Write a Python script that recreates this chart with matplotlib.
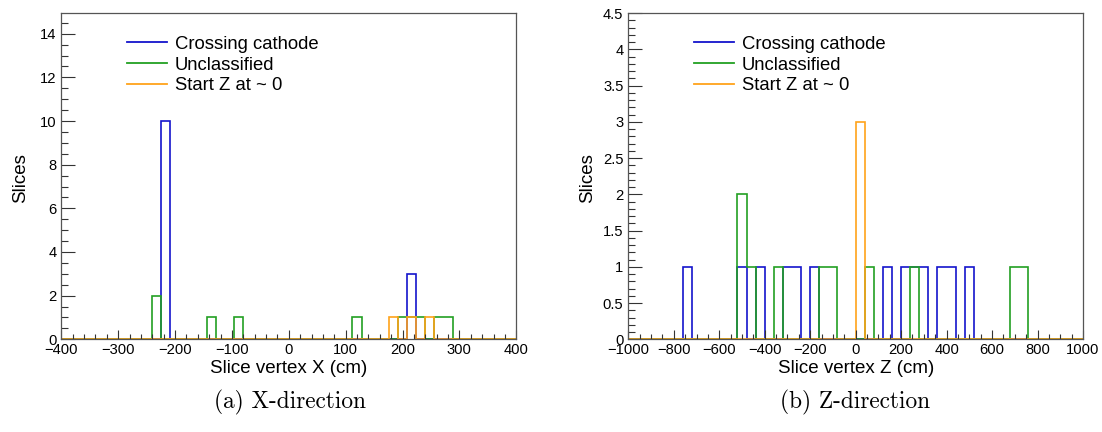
import numpy as np
import matplotlib
matplotlib.use("Agg")
import matplotlib.pyplot as plt
from matplotlib.ticker import MultipleLocator, FuncFormatter
from matplotlib.lines import Line2D

# ---------------- data ----------------
# X-direction histograms (bin centres of non-empty bins, counts)
x_bins = np.linspace(-400, 400, 51)
x_blue_pos = [-216, 216]
x_blue_cnt = [10, 3]
x_green_pos = [-232, -136, -88, 120, 200, 216, 232, 264, 280]
x_green_cnt = [2, 1, 1, 1, 1, 1, 1, 1, 1]
x_orange_pos = [184, 216, 248]
x_orange_cnt = [1, 1, 1]

# Z-direction histograms
z_bins = np.linspace(-1000, 1000, 51)
z_blue_pos = [-740, -500, -420, -300, -260, -180, 140, 220, 260, 300, 380, 420, 500]
z_blue_cnt = [1, 1, 1, 1, 1, 1, 1, 1, 1, 1, 1, 1, 1]
z_green_pos = [-500, -460, -340, -140, -100, 60, 260, 700, 740]
z_green_cnt = [2, 1, 1, 1, 1, 1, 1, 1, 1]
z_orange_pos = [20]
z_orange_cnt = [3]

labels = ["Crossing cathode", "Unclassified", "Start Z at ~ 0"]
colors = ["#1414cc", "#22a022", "#ffa31a"]
captions = ["(a) X-direction", "(b) Z-direction"]
xlabels = ["Slice vertex X (cm)", "Slice vertex Z (cm)"]

# ---------------- figure ----------------
plt.rcParams['font.family'] = ['Liberation Sans', 'DejaVu Sans']
fig = plt.figure(figsize=(11.02, 4.32), dpi=100)

W, H = 1102, 432
def axrect(x0, x1, ytop, ybot):
    return [x0 / W, 1 - ybot / H, (x1 - x0) / W, (ybot - ytop) / H]

ax1 = fig.add_axes(axrect(61.3, 516.3, 13, 339.3))
ax2 = fig.add_axes(axrect(628.3, 1083, 13, 339.3))

def fmt(v, pos):
    if abs(v - round(v)) < 1e-9:
        s = "%d" % round(v)
    else:
        s = ("%g" % v)
    return s.replace("-", "\u2212")

def draw(ax, bins, data, xlim, ylim, xmaj, xmin, ymaj, ymin, xlabel, legx, labx):
    for (pos, cnt), c, lab in zip(data, colors, labels):
        h, _ = np.histogram(pos, bins=bins, weights=cnt)
        ax.stairs(h, bins, color=c, linewidth=1.2, clip_on=False, label=lab)
    ax.set_xlim(*xlim)
    ax.set_ylim(*ylim)
    ax.xaxis.set_major_locator(MultipleLocator(xmaj))
    ax.xaxis.set_minor_locator(MultipleLocator(xmin))
    ax.yaxis.set_major_locator(MultipleLocator(ymaj))
    ax.yaxis.set_minor_locator(MultipleLocator(ymin))
    ax.xaxis.set_major_formatter(FuncFormatter(fmt))
    ax.yaxis.set_major_formatter(FuncFormatter(fmt))
    ax.tick_params(which='both', direction='in', colors='#333333', labelcolor='black',
                   labelsize=10.6, top=False, right=False, width=0.8)
    ax.tick_params(axis='x', which='major', length=6.8, pad=3)
    ax.tick_params(axis='x', which='minor', length=3.6)
    ax.tick_params(axis='y', which='major', length=10, pad=3.5)
    ax.tick_params(axis='y', which='minor', length=5.2)
    for sp in ax.spines.values():
        sp.set_color('#555555')
        sp.set_linewidth(0.9)
    ax.set_xlabel(xlabel, fontsize=13.5, va='center')
    ax.xaxis.set_label_coords(labx, -0.088)
    ax.set_ylabel("Slices", fontsize=13.5, va='center')
    ax.yaxis.set_label_coords(-0.09, 0.495)
    proxies = [Line2D([], [], color=c, linewidth=1.3) for c in colors]
    ax.legend(proxies, labels, loc='upper left', bbox_to_anchor=(legx, 0.93),
              frameon=False, fontsize=13.3, handlelength=2.15, handletextpad=0.45,
              labelspacing=0.2, borderaxespad=0, borderpad=0)

draw(ax1, x_bins,
     [(x_blue_pos, x_blue_cnt), (x_green_pos, x_green_cnt), (x_orange_pos, x_orange_cnt)],
     (-400, 400), (0, 14.95), 100, 20, 2, 0.5, xlabels[0], (127 - 61.3) / 455, 0.5)
draw(ax2, z_bins,
     [(z_blue_pos, z_blue_cnt), (z_green_pos, z_green_cnt), (z_orange_pos, z_orange_cnt)],
     (-1000, 1000), (0, 4.5), 200, 50, 0.5, 0.1, xlabels[1], (694 - 628.3) / 454.7, 0.5)

fig.text(290 / W, 1 - 402 / H, captions[0], family='cmr10', fontsize=16.8,
         ha='center', va='center')
fig.text(855 / W, 1 - 402 / H, captions[1], family='cmr10', fontsize=16.8,
         ha='center', va='center')

fig.savefig("out.png", dpi=100)
